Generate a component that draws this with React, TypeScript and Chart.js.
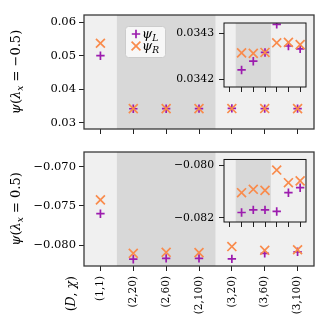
import React, { useEffect, useRef } from "react";
import { Chart, registerables } from "chart.js";
Chart.register(...registerables);

const categories = ["(1,1)", "(2,20)", "(2,60)", "(2,100)", "(3,20)", "(3,60)", "(3,100)"];
const psiLNeg = [0.05, 0.03422, 0.034239, 0.034258, 0.034319, 0.034272, 0.034266];
const psiRNeg = [0.0537, 0.034257, 0.034256, 0.034258, 0.034279, 0.03428, 0.034275];
const psiLPos = [-0.076, -0.0818, -0.0817, -0.0817, -0.08176, -0.08105, -0.08086];
const psiRPos = [-0.07424, -0.08105, -0.08092, -0.08096, -0.08019, -0.08067, -0.0806];

const topTicks = [0.03, 0.04, 0.05, 0.06];
const topTickLabels = ["0.03", "0.04", "0.05", "0.06"];
const bottomTicks = [-0.08, -0.075, -0.07];
const bottomTickLabels = ["\u22120.080", "\u22120.075", "\u22120.070"];
const insetTopTicks = [0.0342, 0.0343];
const insetTopTickLabels = ["0.0342", "0.0343"];
const insetBottomTicks = [-0.082, -0.08];
const insetBottomTickLabels = ["\u22120.082", "\u22120.080"];

const PURPLE = "#9c1cae";
const ORANGE = "#f98b4c";
const LIGHT = "#f0f0f0";
const DARK = "#d8d8d8";
const FONT = "DejaVu Serif";

type Part = { t: string; it?: boolean; sub?: boolean };

function drawRich(ctx: CanvasRenderingContext2D, parts: Part[], x: number, y: number, angle: number, align: string, size: number) {
  ctx.save();
  ctx.translate(x, y);
  ctx.rotate(angle);
  ctx.fillStyle = "#000";
  ctx.textBaseline = "alphabetic";
  ctx.textAlign = "left";
  const fontFor = (p: Part) => `${p.it ? "italic " : ""}${p.sub ? size * 0.7 : size}px "${FONT}"`;
  let total = 0;
  const widths = parts.map((p) => {
    ctx.font = fontFor(p);
    const w = ctx.measureText(p.t).width;
    total += w;
    return w;
  });
  let cx = align === "center" ? -total / 2 : align === "right" ? -total : 0;
  parts.forEach((p, i) => {
    ctx.font = fontFor(p);
    ctx.fillText(p.t, cx, p.sub ? size * 0.25 : 0);
    cx += widths[i];
  });
  ctx.restore();
}

function drawPlus(ctx: CanvasRenderingContext2D, x: number, y: number, r: number, color: string) {
  ctx.save();
  ctx.strokeStyle = color;
  ctx.lineWidth = 1.7;
  ctx.beginPath();
  ctx.moveTo(x - r, y);
  ctx.lineTo(x + r, y);
  ctx.moveTo(x, y - r);
  ctx.lineTo(x, y + r);
  ctx.stroke();
  ctx.restore();
}

function drawX(ctx: CanvasRenderingContext2D, x: number, y: number, r: number, color: string) {
  ctx.save();
  ctx.strokeStyle = color;
  ctx.lineWidth = 1.7;
  ctx.beginPath();
  ctx.moveTo(x - r, y - r);
  ctx.lineTo(x + r, y + r);
  ctx.moveTo(x - r, y + r);
  ctx.lineTo(x + r, y - r);
  ctx.stroke();
  ctx.restore();
}

interface PanelOpts {
  L: number[];
  R: number[];
  yMin: number;
  yMax: number;
  yTicks: number[];
  yLabels: string[];
  showXLabels: boolean;
  pad: { top: number; right: number; bottom: number; left: number };
  yWidth: number;
  xHeight: number;
  tickLen: number;
  yPad: number;
  tickFont: number;
  frameColor: string;
  frameWidth: number;
  after?: (chart: any) => void;
}

function makeChart(canvas: HTMLCanvasElement, o: PanelOpts) {
  const panelPlugin = {
    id: "panel",
    beforeDraw(chart: any) {
      const { ctx, chartArea } = chart;
      const xs = chart.scales.x;
      ctx.save();
      ctx.fillStyle = LIGHT;
      ctx.fillRect(chartArea.left, chartArea.top, chartArea.right - chartArea.left, chartArea.bottom - chartArea.top);
      ctx.fillStyle = DARK;
      const a = xs.getPixelForValue(0.5);
      const b = xs.getPixelForValue(3.5);
      ctx.fillRect(a, chartArea.top, b - a, chartArea.bottom - chartArea.top);
      ctx.restore();
    },
    afterDraw(chart: any) {
      const { ctx, chartArea } = chart;
      ctx.save();
      ctx.strokeStyle = o.frameColor;
      ctx.lineWidth = o.frameWidth;
      ctx.strokeRect(chartArea.left, chartArea.top, chartArea.right - chartArea.left, chartArea.bottom - chartArea.top);
      ctx.restore();
      if (o.after) o.after(chart);
    },
  };
  return new Chart(canvas, {
    type: "scatter",
    data: {
      datasets: [
        {
          label: "psi_L",
          data: o.L.map((v, i) => ({ x: i, y: v })),
          pointStyle: "cross",
          pointRadius: 4.2,
          borderColor: PURPLE,
          backgroundColor: PURPLE,
          borderWidth: 1.7,
          order: 1,
        },
        {
          label: "psi_R",
          data: o.R.map((v, i) => ({ x: i, y: v })),
          pointStyle: "crossRot",
          pointRadius: 6.3,
          borderColor: ORANGE,
          backgroundColor: ORANGE,
          borderWidth: 1.7,
          order: 0,
        },
      ],
    },
    options: {
      responsive: false,
      animation: false,
      events: [],
      layout: { padding: o.pad },
      plugins: { legend: { display: false }, tooltip: { enabled: false } },
      scales: {
        x: {
          type: "linear",
          min: -0.5,
          max: 6.5,
          afterBuildTicks: (s: any) => {
            s.ticks = categories.map((_, i) => ({ value: i }));
          },
          afterFit: (s: any) => {
            s.height = o.xHeight;
          },
          ticks: {
            display: o.showXLabels,
            callback: (_v: any, i: number) => categories[i],
            minRotation: 90,
            maxRotation: 90,
            autoSkip: false,
            padding: 5,
            font: { family: FONT, size: 10.5 },
            color: "#000",
          },
          grid: { drawOnChartArea: false, drawTicks: true, tickLength: o.tickLen, tickColor: "#222", tickWidth: 1 },
          border: { display: false },
        },
        y: {
          type: "linear",
          min: o.yMin,
          max: o.yMax,
          afterBuildTicks: (s: any) => {
            s.ticks = o.yTicks.map((v) => ({ value: v }));
          },
          afterFit: (s: any) => {
            s.width = o.yWidth;
          },
          ticks: {
            callback: (_v: any, i: number) => o.yLabels[i],
            padding: o.yPad,
            font: { family: FONT, size: o.tickFont },
            color: "#000",
          },
          grid: { drawOnChartArea: false, drawTicks: true, tickLength: o.tickLen, tickColor: "#222", tickWidth: 1 },
          border: { display: false },
        },
      },
    } as any,
    plugins: [panelPlugin],
  } as any);
}

export default function App() {
  const r1 = useRef<HTMLCanvasElement>(null);
  const r2 = useRef<HTMLCanvasElement>(null);
  const r3 = useRef<HTMLCanvasElement>(null);
  const r4 = useRef<HTMLCanvasElement>(null);

  useEffect(() => {
    const charts: Chart[] = [];
    charts.push(
      makeChart(r1.current!, {
        L: psiLNeg,
        R: psiRNeg,
        yMin: 0.0282,
        yMax: 0.0621,
        yTicks: topTicks,
        yLabels: topTickLabels,
        showXLabels: false,
        pad: { top: 15, right: 15, bottom: 0, left: 0 },
        yWidth: 84,
        xHeight: 11,
        tickLen: 5,
        yPad: 3,
        tickFont: 11.5,
        frameColor: "#3a3a3a",
        frameWidth: 1.3,
        after: (chart) => {
          const ctx = chart.ctx as CanvasRenderingContext2D;
          drawRich(ctx, [{ t: "ψ", it: true }, { t: "(" }, { t: "λ", it: true }, { t: "x", it: true, sub: true }, { t: " = −0.5)" }], 20, 72, -Math.PI / 2, "center", 13);
          // legend
          ctx.save();
          ctx.fillStyle = "rgba(255,255,255,0.8)";
          ctx.strokeStyle = "#cccccc";
          ctx.lineWidth = 1;
          ctx.beginPath();
          (ctx as any).roundRect(125.5, 26.5, 40, 31, 3);
          ctx.fill();
          ctx.stroke();
          ctx.restore();
          drawPlus(ctx, 136, 34, 4.2, PURPLE);
          drawX(ctx, 136, 46, 4.4, ORANGE);
          drawRich(ctx, [{ t: "ψ", it: true }, { t: "L", it: true, sub: true }], 142, 37.5, 0, "left", 13);
          drawRich(ctx, [{ t: "ψ", it: true }, { t: "R", it: true, sub: true }], 142, 49.5, 0, "left", 13);
        },
      })
    );
    charts.push(
      makeChart(r2.current!, {
        L: psiLPos,
        R: psiRPos,
        yMin: -0.08267,
        yMax: -0.06813,
        yTicks: bottomTicks,
        yLabels: bottomTickLabels,
        showXLabels: true,
        pad: { top: 12, right: 15, bottom: 0, left: 0 },
        yWidth: 84,
        xHeight: 63,
        tickLen: 5,
        yPad: 3,
        tickFont: 11.5,
        frameColor: "#3a3a3a",
        frameWidth: 1.3,
        after: (chart) => {
          const ctx = chart.ctx as CanvasRenderingContext2D;
          drawRich(ctx, [{ t: "ψ", it: true }, { t: "(" }, { t: "λ", it: true }, { t: "x", it: true, sub: true }, { t: " = 0.5)" }], 20, 69, -Math.PI / 2, "center", 13);
          drawRich(ctx, [{ t: "(" }, { t: "D", it: true }, { t: ", " }, { t: "χ", it: true }, { t: ")" }], 75, 136, -Math.PI / 2, "right", 12.5);
        },
      })
    );
    charts.push(
      makeChart(r3.current!, {
        L: psiLNeg,
        R: psiRNeg,
        yMin: 0.034183,
        yMax: 0.034322,
        yTicks: insetTopTicks,
        yLabels: insetTopTickLabels,
        showXLabels: false,
        pad: { top: 13, right: 10, bottom: 0, left: 0 },
        yWidth: 74,
        xHeight: 13,
        tickLen: 5,
        yPad: 5,
        tickFont: 10.8,
        frameColor: "#111",
        frameWidth: 1,
      })
    );
    charts.push(
      makeChart(r4.current!, {
        L: psiLPos,
        R: psiRPos,
        yMin: -0.08216,
        yMax: -0.07979,
        yTicks: insetBottomTicks,
        yLabels: insetBottomTickLabels,
        showXLabels: false,
        pad: { top: 10, right: 10, bottom: 0, left: 0 },
        yWidth: 74,
        xHeight: 16,
        tickLen: 5,
        yPad: 5,
        tickFont: 10.8,
        frameColor: "#111",
        frameWidth: 1,
      })
    );
    return () => charts.forEach((c) => c.destroy());
  }, []);

  const abs = (left: number, top: number): React.CSSProperties => ({ position: "absolute", left, top, display: "block" });

  return (
    <div style={{ position: "absolute", left: 0, top: 0, width: 329, height: 329, background: "#fff" }}>
      <canvas ref={r1} width={329} height={140} style={abs(0, 0)} />
      <canvas ref={r2} width={329} height={189} style={abs(0, 140)} />
      <canvas ref={r3} width={166} height={90} style={abs(150, 10)} />
      <canvas ref={r4} width={166} height={90} style={abs(150, 148)} />
    </div>
  );
}
